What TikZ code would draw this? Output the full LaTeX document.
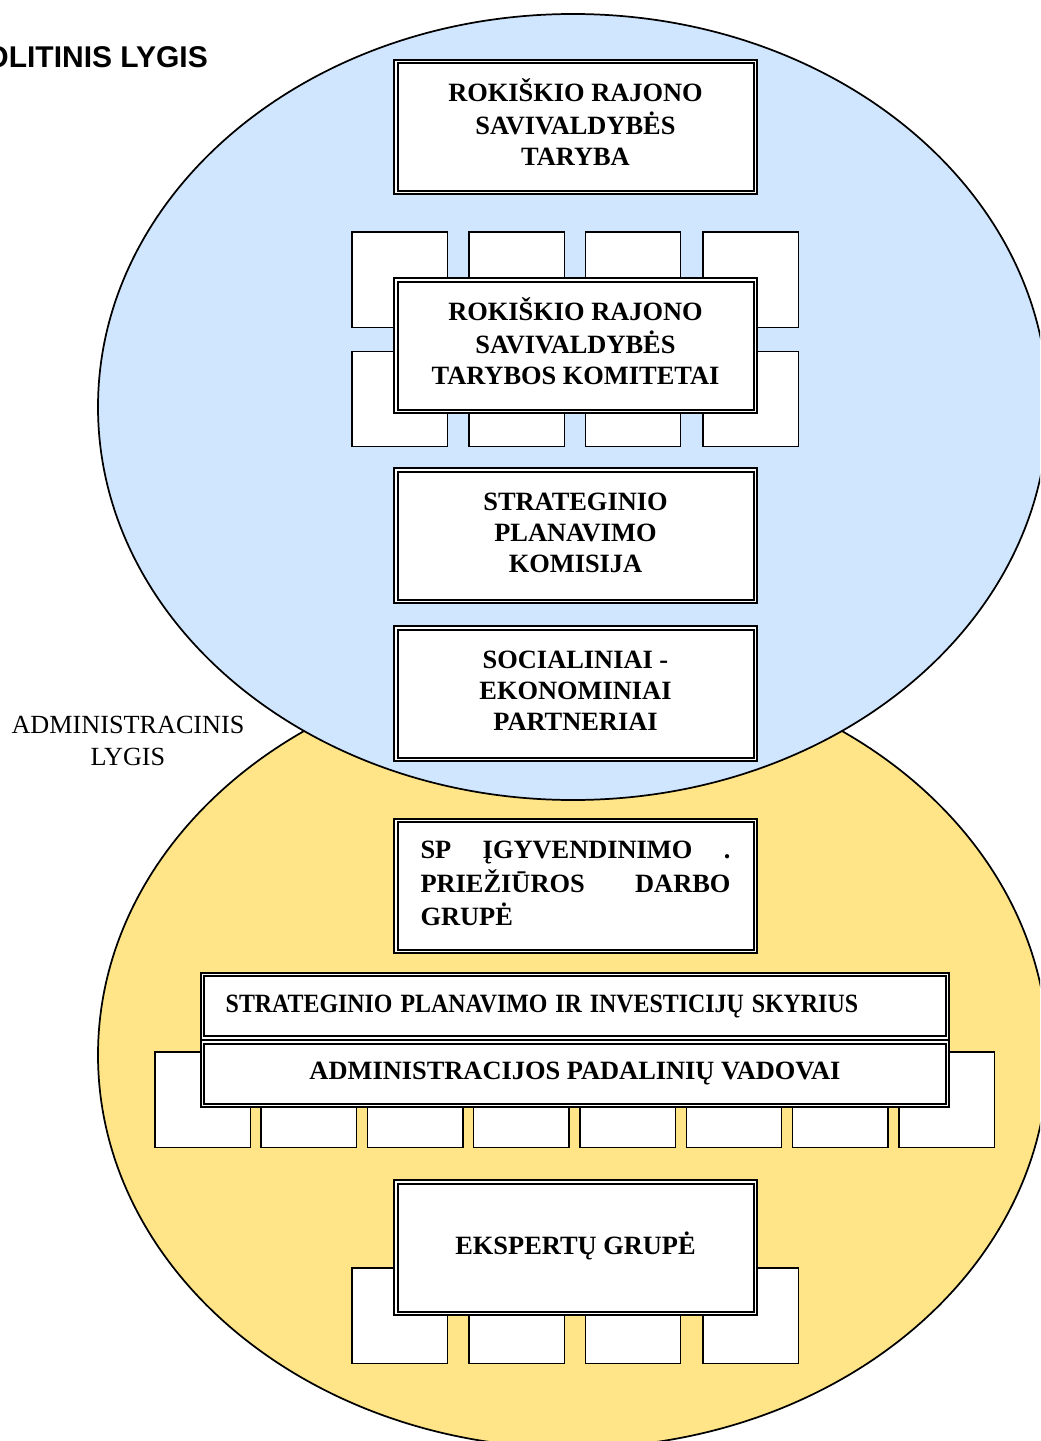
\documentclass[tikz,border=0pt]{standalone}
\usepackage{fontspec}
\setmainfont{Liberation Serif}
\newfontfamily\arialfont{Liberation Sans}
\usetikzlibrary{shapes.geometric}
\definecolor{politblue}{RGB}{208,229,254}
\definecolor{admyellow}{RGB}{255,229,135}
\tikzset{
  zone/.style={ellipse, draw=black, line width=1.3pt, inner sep=0pt,
    minimum width=712.5pt, minimum height=589.5pt},
  mainbox/.style={draw=black, line width=1.5pt, double=white, double distance=1.1pt,
    fill=white, minimum width=269.6pt, minimum height=98.6pt, inner sep=0pt,
    font=\bfseries\fontsize{19.8}{23.25}\selectfont, align=center},
  widebox/.style={mainbox, minimum width=559pt, minimum height=47.6pt},
  sq/.style={draw=black, line width=1.1pt, fill=white, minimum size=71.6pt, inner sep=0pt},
}
\begin{document}
\begin{tikzpicture}[x=0.75pt,y=-0.75pt]
\useasboundingbox (0,0) rectangle (1040,1441);
\clip (0,0) rectangle (1040,1441);
% zones
\node[zone, fill=admyellow] (adm) at (573,1055) {};
\node[zone, fill=politblue] (pol) at (573,407) {};
% small squares behind committees
\foreach \x [count=\i] in {399.5,516.5,633,750.5} {
  \node[sq] (kt\i) at (\x,279.5) {};
  \node[sq] (kb\i) at (\x,399) {};
  \node[sq] (ex\i) at (\x,1315.5) {};
}
\foreach \i in {0,...,7} {
  \node[sq] (ad\i) at ({202.5+106.3*\i},1099.5) {};
}
% main boxes
\node[mainbox] (taryba) at (575.5,127) {\strut ROKIŠKIO RAJONO\\\strut SAVIVALDYBĖS\\\strut TARYBA};
\node[mainbox] (komitetai) at (575.5,345.5) {\strut ROKIŠKIO RAJONO\\\strut SAVIVALDYBĖS\\\strut TARYBOS KOMITETAI};
\node[mainbox] (komisija) at (575.5,535.5) {\strut STRATEGINIO\\\strut PLANAVIMO\\\strut KOMISIJA};
\node[mainbox] (partneriai) at (575.5,693.5) {\strut SOCIALINIAI -\\\strut EKONOMINIAI\\\strut PARTNERIAI};
\node[mainbox, align=left] (sp) at (575.5,886) {\hbox to 232.5pt{\strut SP\hfill ĮGYVENDINIMO\hfill .}\\\hbox to 232.5pt{\strut PRIEŽIŪROS\hfill DARBO}\\\hbox to 232.5pt{\strut GRUPĖ\hfill}};
\node[widebox, align=left, text width=523.9pt, inner xsep=17.6pt] (skyrius) at (575,1006.4) {\strut\scalebox{0.905}[1]{STRATEGINIO PLANAVIMO IR INVESTICIJŲ SKYRIUS}};
\node[widebox] (vadovai) at (575,1073.5) {\strut ADMINISTRACIJOS PADALINIŲ VADOVAI};
\node[mainbox] (ekspertai) at (575.5,1247.5) {\strut EKSPERTŲ GRUPĖ};
% level labels
\node[font=\arialfont\bfseries\fontsize{22.5}{27}\selectfont, anchor=base east, inner sep=0pt] (pollvl) at (208,68) {POLITINIS LYGIS};
\node[font=\fontsize{19.65}{24}\selectfont, align=center, inner sep=0pt] (admlvl) at (128,742.6) {\strut ADMINISTRACINIS\\\strut LYGIS};
\end{tikzpicture}
\end{document}
